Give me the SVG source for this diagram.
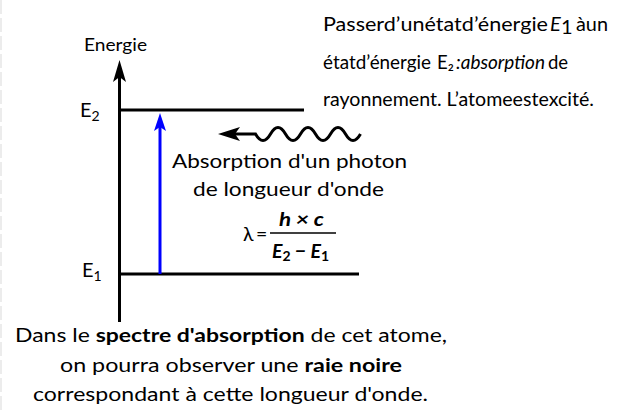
<svg xmlns="http://www.w3.org/2000/svg" width="624" height="410" viewBox="0 0 624 410">
<style>
text{font-family:Lato,"Open Sans","Liberation Sans",sans-serif;fill:#000}
.t{font-size:19.5px}
.r{font-size:18.5px}
.lbl{font-size:18px}
.b{font-weight:bold}
.i{font-style:italic}
.ln{stroke:#000;stroke-width:3;fill:none}
</style>
<defs>
<marker id="ah" viewBox="-22 -8 32 16" markerWidth="32" markerHeight="16" refX="0" refY="0" markerUnits="userSpaceOnUse" orient="auto" overflow="visible">
<path d="M8,0 L-14,-6.5 L-9,0 L-14,6.5 Z" fill="#000"/>
</marker>
<marker id="ahb" viewBox="-22 -8 32 16" markerWidth="32" markerHeight="16" refX="0" refY="0" markerUnits="userSpaceOnUse" orient="auto" overflow="visible">
<path d="M8,0 L-10,-6 L-6,0 L-10,6 Z" fill="#0000ff"/>
</marker>
</defs>
<rect width="624" height="410" fill="#fff"/>
<line x1="1" y1="0" x2="1" y2="410" stroke="#e6e6e6" stroke-width="1.5" stroke-dasharray="14 4"/>

<g id="axis">
<line class="ln" x1="119.5" y1="322" x2="119.5" y2="68" marker-end="url(#ah)"/>
<text class="lbl" x="84" y="51" textLength="63" lengthAdjust="spacingAndGlyphs">Energie</text>
</g>

<g id="level-E2">
<line class="ln" x1="118" y1="110" x2="304" y2="110"/>
<text x="80" y="117" font-size="20">E<tspan font-size="14" dy="4">2</tspan></text>
</g>

<g id="level-E1">
<line class="ln" x1="118" y1="274" x2="359" y2="274"/>
<text x="82" y="277" font-size="20">E<tspan font-size="14" dy="4">1</tspan></text>
</g>

<g id="connectors">
<line x1="160" y1="274" x2="160" y2="121" stroke="#0000ff" stroke-width="3" marker-end="url(#ahb)"/>
<path class="ln" d="M226,134 L255.5,134 Q263,147 270.5,134 T285.5,134 T300.5,134 T315.5,134 T330.5,134 T345.5,134 T360.5,134"/>
<path d="M218,134 L240,127 L235,134 L240,141 Z" fill="#000"/>
</g>

<g id="photon-label">
<text class="t" x="289.5" y="168" text-anchor="middle" textLength="235" lengthAdjust="spacingAndGlyphs">Absorption d'un photon</text>
<text class="t" x="288.5" y="196" text-anchor="middle" textLength="191" lengthAdjust="spacingAndGlyphs">de longueur d'onde</text>
<text class="t" x="243" y="241" font-size="21">λ</text>
<text class="t" x="256" y="241">=</text>
<text class="t b i" x="279" y="226" font-size="21" textLength="45" lengthAdjust="spacingAndGlyphs">h × c</text>
<line x1="270" y1="233" x2="336" y2="233" stroke="#000" stroke-width="1.5"/>
<text class="t b i" x="272" y="258" font-size="21">E<tspan font-size="14" dy="3" font-style="normal">2</tspan><tspan dy="-3"> − E</tspan><tspan font-size="14" dy="3" font-style="normal">1</tspan></text>
</g>

<g id="caption-top">
<text class="r" x="323" y="31"><tspan textLength="225" lengthAdjust="spacingAndGlyphs">Passerd’unétatd’énergie</tspan><tspan x="550" class="i" font-size="20">E</tspan><tspan x="561" dy="3" font-size="20">1</tspan><tspan x="576" dy="-3" textLength="32" lengthAdjust="spacingAndGlyphs">àun</tspan></text>
<text class="r" x="323" y="69"><tspan textLength="108" lengthAdjust="spacingAndGlyphs">étatd’énergie</tspan><tspan x="437">E₂</tspan><tspan x="456" class="i" textLength="89" lengthAdjust="spacingAndGlyphs">:absorption</tspan><tspan x="548">de</tspan></text>
<text class="r" x="323" y="106" textLength="271" lengthAdjust="spacingAndGlyphs">rayonnement. L’atomeestexcité.</text>
</g>

<g id="caption-bottom">
<text class="t" x="231" y="342" text-anchor="middle" textLength="432" lengthAdjust="spacingAndGlyphs">Dans le <tspan class="b">spectre d'absorption</tspan> de cet atome,</text>
<text class="t" x="231" y="372" text-anchor="middle" textLength="342" lengthAdjust="spacingAndGlyphs">on pourra observer une <tspan class="b">raie noire</tspan></text>
<text class="t" x="230.5" y="401" text-anchor="middle" textLength="395" lengthAdjust="spacingAndGlyphs">correspondant à cette longueur d'onde.</text>
</g>
</svg>
